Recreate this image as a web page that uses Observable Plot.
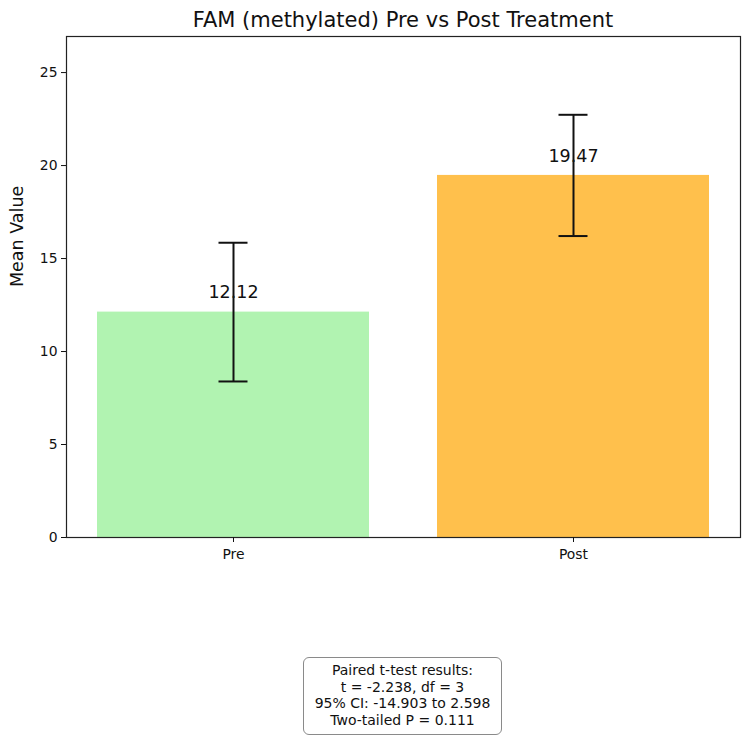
<!DOCTYPE html>
<html>
<head>
<meta charset="utf-8">
<script src="https://cdn.jsdelivr.net/npm/d3@7"></script>
<script src="https://cdn.jsdelivr.net/npm/@observablehq/plot@0.6"></script>
<style>
  html, body { margin: 0; padding: 0; background: #fff; }
  #wrap { position: relative; width: 750px; height: 741px; font-family: "DejaVu Sans", sans-serif; color: #111; }
  #title { position: absolute; left: 66px; width: 674px; top: 7px; text-align: center; font-size: 21px; line-height: 26px; }
  #chart { position: absolute; left: 0; top: 0; }
  #stats { position: absolute; left: 303px; top: 657px; width: 199px; height: 78px; box-sizing: border-box;
           border: 1.4px solid #8a8a8a; border-radius: 6px; background: #fff; text-align: center;
           font-size: 14px; line-height: 16.6px; padding-top: 4px; }
</style>
</head>
<body>
<div id="wrap">
  <div id="chart"></div>
  <div id="title"></div>
  <div id="stats"></div>
</div>
<script>
const titleText = "FAM (methylated) Pre vs Post Treatment";
const yLabel = "Mean Value";
const groups = ["Pre", "Post"];
const means = [12.12, 19.47];
const errors = [3.73, 3.26];
const valueLabels = ["12.12", "19.47"];
const barColors = ["#b1f3b1", "#ffc04c"];
const yTicks = [0, 5, 10, 15, 20, 25];
const yMax = 26.94;
const statsLines = [
  "Paired t-test results:",
  "t = -2.238, df = 3",
  "95% CI: -14.903 to 2.598",
  "Two-tailed P = 0.111"
];

const data = groups.map((g, i) => ({g, m: means[i], e: errors[i], label: valueLabels[i]}));

const chart = Plot.plot({
  width: 750,
  height: 600,
  marginLeft: 66,
  marginRight: 10,
  marginTop: 36,
  marginBottom: 63,
  style: {fontFamily: "DejaVu Sans, sans-serif", fontSize: "13.9px", color: "#111", background: "transparent"},
  x: {type: "band", domain: groups, paddingInner: 0.2, paddingOuter: 0.091, label: null},
  y: {domain: [0, yMax], label: null},
  color: {domain: groups, range: barColors},
  marks: [
    Plot.barY(data, {x: "g", y: "m", fill: "g"}),
    Plot.ruleX(data, {x: "g", y1: d => d.m - d.e, y2: d => d.m + d.e, stroke: "#111", strokeWidth: 2}),
    Plot.tickY(data, {x: "g", y: d => d.m + d.e, stroke: "#111", strokeWidth: 2, insetLeft: 121.5, insetRight: 121.5}),
    Plot.tickY(data, {x: "g", y: d => d.m - d.e, stroke: "#111", strokeWidth: 2, insetLeft: 121.5, insetRight: 121.5}),
    Plot.text(data, {x: "g", y: "m", text: "label", dy: -19.5, fontSize: 17.5, fill: "#111"}),
    Plot.frame({stroke: "#222", strokeWidth: 1.2}),
    Plot.axisY({ticks: yTicks, tickSize: 5, tickPadding: 4, label: null, tickFormat: d => String(d)}),
    Plot.axisX({tickSize: 5, tickPadding: 7, label: null}),
    Plot.text([yLabel], {text: d => d, frameAnchor: "left", rotate: -90, dx: -49, fontSize: 17.5, fill: "#111"})
  ]
});
document.getElementById("chart").appendChild(chart);
document.getElementById("title").textContent = titleText;
document.getElementById("stats").innerHTML = statsLines.map(s => `<div>${s}</div>`).join("");
</script>
</body>
</html>
